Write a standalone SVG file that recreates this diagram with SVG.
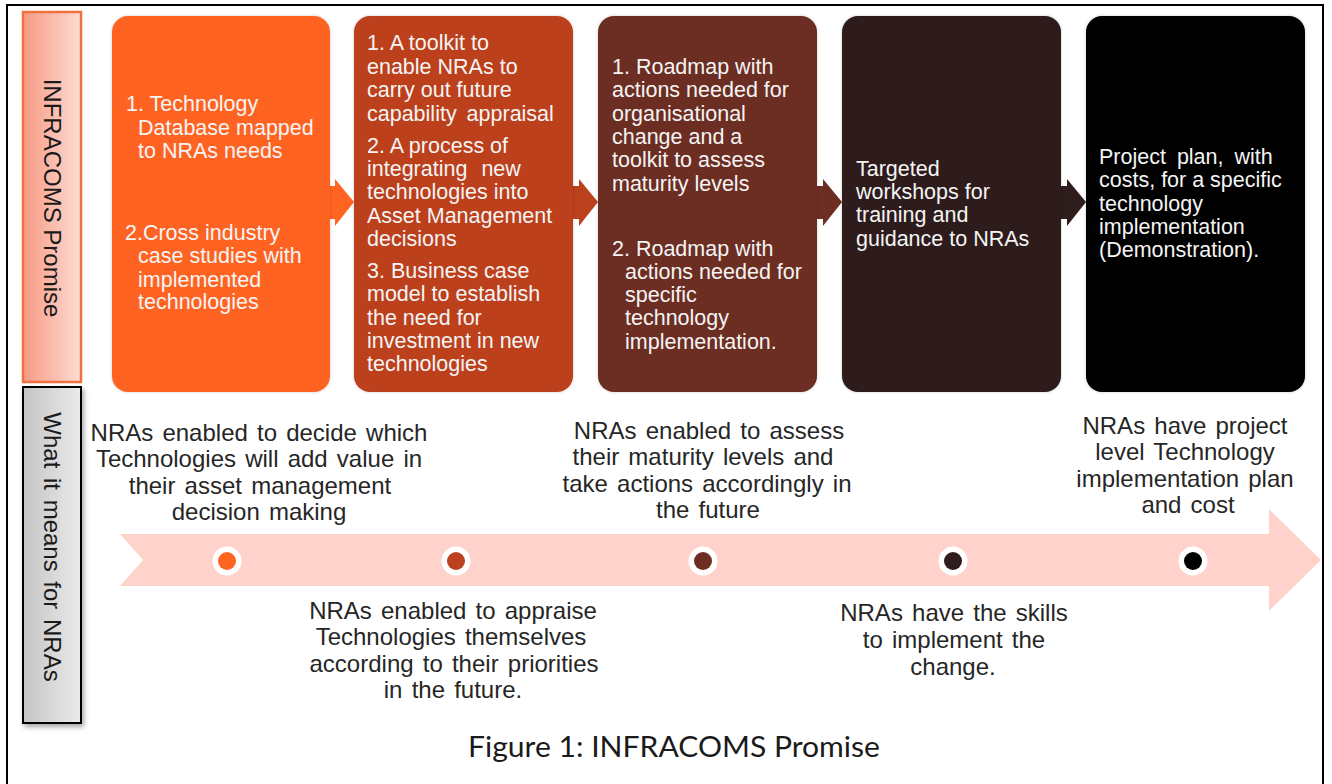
<svg xmlns="http://www.w3.org/2000/svg" width="1332" height="784" viewBox="0 0 1332 784">
<defs>
<linearGradient id="gOrange" x1="0" y1="0" x2="1" y2="0">
<stop offset="0" stop-color="#F79A84"/>
<stop offset="1" stop-color="#FDDCD3"/>
</linearGradient>
<linearGradient id="gGray" x1="0" y1="0" x2="1" y2="0">
<stop offset="0" stop-color="#C4C4C4"/>
<stop offset="1" stop-color="#EBEBEB"/>
</linearGradient>
<filter id="shadow" x="-20%" y="-10%" width="150%" height="130%">
<feDropShadow dx="2" dy="3" stdDeviation="2.5" flood-color="#000" flood-opacity="0.35"/>
</filter>
<filter id="soft" x="-5%" y="-5%" width="110%" height="110%">
<feDropShadow dx="0" dy="0" stdDeviation="1.5" flood-color="#000" flood-opacity="0.2"/>
</filter>
</defs>
<style>
.box{font-family:"Liberation Sans",Arial,sans-serif;font-size:21.5px;fill:#F4F4F4}
.nra{font-family:"Liberation Sans",Arial,sans-serif;font-size:24px;fill:#262626;text-anchor:middle;word-spacing:2.5px}
.lbl{font-family:"Liberation Sans",Arial,sans-serif;font-size:24px;fill:#1A1A1A;text-anchor:middle}
.cap{font-family:Lato,"Open Sans",sans-serif;font-size:29px;fill:#1A1A1A;text-anchor:middle}
</style>
<rect x="0" y="0" width="1332" height="784" fill="#FFFFFF"/>
<rect id="frame" x="7" y="5" width="1316" height="800" fill="none" stroke="#000" stroke-width="2"/>

<g id="label-promise">
<rect x="23" y="12" width="58" height="370" fill="url(#gOrange)" stroke="#F0703F" stroke-width="2.5"/>
<text class="lbl" transform="translate(52,198) rotate(90)" dominant-baseline="central">INFRACOMS Promise</text>
</g>
<g id="label-means">
<rect x="23" y="387" width="58" height="336" fill="url(#gGray)" stroke="#000" stroke-width="2" filter="url(#shadow)"/>
<text class="lbl" transform="translate(52,547) rotate(90)" dominant-baseline="central" word-spacing="3">What it means for NRAs</text>
</g>

<g id="connectors">
<path d="M328,186 L335,186 L335,179 L354,202 L335,226 L335,219 L328,219 Z" fill="#FF6421"/>
<path d="M571,186 L579,186 L579,179 L598,202 L579,226 L579,219 L571,219 Z" fill="#BC411F"/>
<path d="M815,186 L823,186 L823,179 L842,202 L823,226 L823,219 L815,219 Z" fill="#6C2D23"/>
<path d="M1059,186 L1067,186 L1067,179 L1086,202 L1067,226 L1067,219 L1059,219 Z" fill="#2F1C1D"/>
</g>

<g id="box1">
<rect x="112" y="16" width="218" height="376" rx="16" fill="#FF6421" filter="url(#soft)"/>
<text class="box" x="126" y="111">1. Technology</text>
<text class="box" x="138" y="135">Database mapped</text>
<text class="box" x="138" y="158">to NRAs needs</text>
<text class="box" x="125" y="240">2.Cross industry</text>
<text class="box" x="138" y="263">case studies with</text>
<text class="box" x="138" y="287">implemented</text>
<text class="box" x="138" y="309">technologies</text>
</g>

<g id="box2">
<rect x="354" y="16" width="219" height="376" rx="16" fill="#BC411F" filter="url(#soft)"/>
<text class="box" x="367" y="50">1. A toolkit to</text>
<text class="box" x="367" y="74">enable NRAs to</text>
<text class="box" x="367" y="97">carry out future</text>
<text class="box" x="367" y="121" word-spacing="4">capability appraisal</text>
<text class="box" x="367" y="153">2. A process of</text>
<text class="box" x="367" y="176" word-spacing="8">integrating new</text>
<text class="box" x="367" y="199">technologies into</text>
<text class="box" x="367" y="223">Asset Management</text>
<text class="box" x="367" y="246">decisions</text>
<text class="box" x="367" y="278">3. Business case</text>
<text class="box" x="367" y="301">model to establish</text>
<text class="box" x="367" y="325">the need for</text>
<text class="box" x="367" y="348">investment in new</text>
<text class="box" x="367" y="371">technologies</text>
</g>

<g id="box3">
<rect x="598" y="16" width="219" height="376" rx="16" fill="#6C2D23" filter="url(#soft)"/>
<text class="box" x="612" y="74">1. Roadmap with</text>
<text class="box" x="612" y="97">actions needed for</text>
<text class="box" x="612" y="121">organisational</text>
<text class="box" x="612" y="144">change and a</text>
<text class="box" x="612" y="167">toolkit to assess</text>
<text class="box" x="612" y="191">maturity levels</text>
<text class="box" x="612" y="256">2. Roadmap with</text>
<text class="box" x="625" y="279">actions needed for</text>
<text class="box" x="625" y="302">specific</text>
<text class="box" x="625" y="325">technology</text>
<text class="box" x="625" y="349">implementation.</text>
</g>

<g id="box4">
<rect x="842" y="16" width="219" height="376" rx="16" fill="#2F1C1D" filter="url(#soft)"/>
<text class="box" x="856" y="176">Targeted</text>
<text class="box" x="856" y="199">workshops for</text>
<text class="box" x="856" y="222">training and</text>
<text class="box" x="856" y="246">guidance to NRAs</text>
</g>

<g id="box5">
<rect x="1086" y="16" width="219" height="376" rx="16" fill="#000000" filter="url(#soft)"/>
<text class="box" x="1099" y="164" word-spacing="5">Project plan, with</text>
<text class="box" x="1099" y="187">costs, for a specific</text>
<text class="box" x="1099" y="211">technology</text>
<text class="box" x="1099" y="234">implementation</text>
<text class="box" x="1099" y="257">(Demonstration).</text>
</g>

<g id="timeline">
<path d="M120,534 L1269,534 L1269,509 L1321,560 L1269,611 L1269,586 L120,586 L143,560 Z" fill="#FFD3CC"/>
<circle cx="227" cy="561" r="14.5" fill="#FFFFFF"/>
<circle cx="227" cy="561" r="9" fill="#FF6421"/>
<circle cx="456" cy="561" r="14.5" fill="#FFFFFF"/>
<circle cx="456" cy="561" r="9" fill="#BC411F"/>
<circle cx="703" cy="561" r="14.5" fill="#FFFFFF"/>
<circle cx="703" cy="561" r="9" fill="#6C2D23"/>
<circle cx="953" cy="561" r="14.5" fill="#FFFFFF"/>
<circle cx="953" cy="561" r="9" fill="#2F1C1D"/>
<circle cx="1193" cy="561" r="14.5" fill="#FFFFFF"/>
<circle cx="1193" cy="561" r="9" fill="#000000"/>
</g>

<g id="meaning1">
<text class="nra" x="259" y="441">NRAs enabled to decide which</text>
<text class="nra" x="259" y="467">Technologies will add value in</text>
<text class="nra" x="260" y="494" word-spacing="1.3">their asset management</text>
<text class="nra" x="259" y="520">decision making</text>
</g>
<g id="meaning2">
<text class="nra" x="453" y="619">NRAs enabled to appraise</text>
<text class="nra" x="451" y="645" word-spacing="10">Technologies themselves</text>
<text class="nra" x="454" y="672" word-spacing="3">according to their priorities</text>
<text class="nra" x="453" y="698">in the future.</text>
</g>
<g id="meaning3">
<text class="nra" x="709" y="439" word-spacing="1.7">NRAs enabled to assess</text>
<text class="nra" x="703" y="465" word-spacing="7">their maturity levels and</text>
<text class="nra" x="707" y="492" word-spacing="0">take actions accordingly in</text>
<text class="nra" x="708" y="518">the future</text>
</g>
<g id="meaning4">
<text class="nra" x="954" y="621" word-spacing="0.5">NRAs have the skills</text>
<text class="nra" x="954" y="648">to implement the</text>
<text class="nra" x="953" y="675">change.</text>
</g>
<g id="meaning5">
<text class="nra" x="1185" y="434">NRAs have project</text>
<text class="nra" x="1185" y="460" word-spacing="3">level Technology</text>
<text class="nra" x="1185" y="487" word-spacing="20">implementation plan</text>
<text class="nra" x="1188" y="513" word-spacing="7">and cost</text>
</g>

<text id="caption" class="cap" x="674" y="757" textLength="412" lengthAdjust="spacingAndGlyphs">Figure 1: INFRACOMS Promise</text>
</svg>
